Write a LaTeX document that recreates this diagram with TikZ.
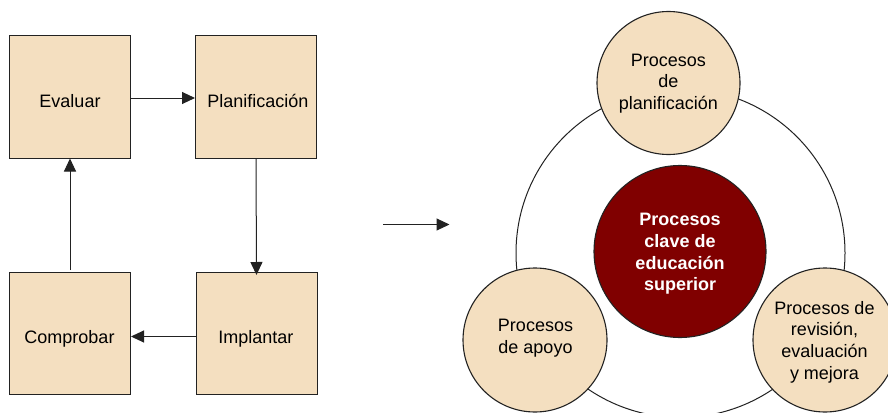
\documentclass[tikz,border=0pt]{standalone}
\usepackage{fontspec}
\setmainfont{Liberation Sans}
\usetikzlibrary{arrows.meta}
\definecolor{beige}{HTML}{F4DFC0}
\definecolor{darkred}{HTML}{800000}
\definecolor{edge}{HTML}{222222}
% invisible strut that fixes the top of a label 20pt above its first baseline
\newcommand\Ltop{\rule{0pt}{20pt}}
\begin{document}
\begin{tikzpicture}[x=1pt,y=-1pt,
  stagebox/.style={draw=edge, line width=1pt, fill=beige, minimum width=121pt, minimum height=122pt, inner sep=0pt},
  flow/.style={draw=edge, line width=1pt, -{Triangle[length=13pt,width=12pt]}},
  proc/.style={circle, draw=edge, line width=1.1pt, fill=beige, inner sep=0pt, minimum size=#1},
  ring/.style={draw=edge, line width=1pt},
  txt/.style={anchor=north, inner sep=0pt, align=center, text=black,
    font=\fontsize{18}{21.65}\selectfont},
  boldtxt/.style={txt, text=white, font=\fontsize{18}{21.65}\selectfont\bfseries}]
  \useasboundingbox (0,0) rectangle (888,412);
  \clip (0,0) rectangle (888,412);
  \fill[white] (0,0) rectangle (888,412);

  % PDCA cycle (labels placed by their first baseline minus 20pt)
  \node[stagebox] (eval) at (70,97) {};
  \node[stagebox] (plan) at (256,97) {};
  \node[stagebox] (comp) at (70,333.5) {};
  \node[stagebox] (impl) at (256.5,333.5) {};
  \node[txt] (evalT) at (70,87.3) {\Ltop Evaluar};
  \node[txt] (planT) at (257.8,87.3) {\Ltop Planificación};
  \node[txt] (compT) at (69.5,323) {\Ltop Comprobar};
  \node[txt] (implT) at (255.8,323) {\Ltop Implantar};

  \draw[flow] (eval.east |- 0,98) -- (plan.west |- 0,98);
  \draw[flow] (plan.south) -- ([yshift=-3pt]impl.north);
  \draw[flow] (impl.west |- 0,336.5) -- (comp.east |- 0,336.5);
  \draw[flow] ([yshift=2pt]comp.north) -- (eval.south);

  % link between the two halves
  \coordinate (linkA) at (383,224.5);
  \coordinate (linkB) at (449.5,224.5);
  \draw[flow] (linkA) -- (linkB);

  % key processes
  \draw[ring] (680.5,253) circle[radius=164.5pt];
  \node[proc=143pt] (top) at (668.5,83) {};
  \node[proc=144pt] (left) at (535,340) {};
  \node[proc=144pt] (right) at (825,340) {};
  \node[circle, draw=edge, line width=1.1pt, fill=darkred, inner sep=0pt, minimum size=172pt] (core) at (680,251.5) {};

  \node[txt] (topT) at (668.4,46) {\Ltop Procesos\\de\\planificación};
  \node[txt] (leftT) at (535.5,311.7) {\Ltop Procesos\\de apoyo};
  \node[txt] (rightT) at (824.5,294) {\Ltop Procesos de\\revisión,\\evaluación\\y mejora};
  \node[boldtxt] (coreT) at (680,205.7) {\Ltop Procesos\\clave de\\educación\\superior};
\end{tikzpicture}
\end{document}
